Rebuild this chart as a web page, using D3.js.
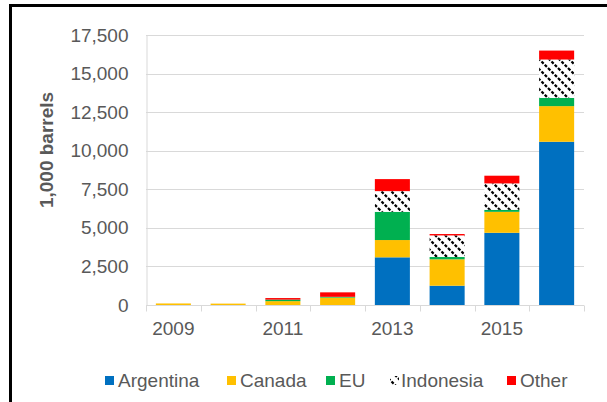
<!DOCTYPE html>
<html>
<head>
<meta charset="utf-8">
<script src="https://cdn.jsdelivr.net/npm/d3@7"></script>
<style>
  body { margin: 0; background: #fff; }
  text { font-family: "Liberation Sans", Arial, sans-serif; }
</style>
</head>
<body>
<svg id="chart" width="607" height="402"></svg>
<script>
var years = ['2009', '2010', '2011', '2012', '2013', '2014', '2015', '2016'];
var seriesNames = ['Argentina', 'Canada', 'EU', 'Indonesia', 'Other'];
var argentina = [0, 0, 0, 0, 3090, 1250, 4680, 10580];
var canada = [100, 90, 250, 480, 1120, 1710, 1360, 2310];
var eu = [0, 0, 100, 50, 1830, 150, 130, 530];
var indonesia = [0, 0, 0, 0, 1340, 1400, 1710, 2490];
var other = [0, 0, 100, 290, 780, 90, 500, 580];
var yTicks = [0, 2500, 5000, 7500, 10000, 12500, 15000, 17500];
var xLabels = ['2009', '2011', '2013', '2015'];

var colors = {
  Argentina: '#0070c0',
  Canada: '#ffc000',
  EU: '#00b050',
  Indonesia: 'url(#hatch)',
  Other: '#ff0000'
};

var rows = years.map(function(y, i) {
  return {
    year: y,
    Argentina: argentina[i],
    Canada: canada[i],
    EU: eu[i],
    Indonesia: indonesia[i],
    Other: other[i]
  };
});

var svg = d3.select('#chart');

// hatch pattern for Indonesia (dashed diagonal stripes)
var pat = svg.append('defs').append('pattern')
  .attr('id', 'hatch')
  .attr('patternUnits', 'userSpaceOnUse')
  .attr('width', 10)
  .attr('height', 10);
pat.append('rect').attr('width', 10).attr('height', 10).attr('fill', '#fff');
pat.append('path')
  .attr('d', 'M-5,-5 L15,15 M5,-5 L15,5 M-5,5 L5,15')
  .attr('stroke', '#000')
  .attr('stroke-width', 2.2)
  .attr('stroke-dasharray', '3,1.6');

// outer frame (only top and left edges visible)
svg.append('rect')
  .attr('x', 10.5)
  .attr('y', 5.5)
  .attr('width', 700)
  .attr('height', 500)
  .attr('fill', 'none')
  .attr('stroke', '#000')
  .attr('stroke-width', 3);

var x = d3.scaleBand().domain(years).range([146, 584]).paddingInner(0.36).paddingOuter(0.18);
var y = d3.scaleLinear().domain([0, 17500]).range([305, 35]);

var g = svg.append('g');

// gridlines
g.selectAll('.grid')
  .data(yTicks)
  .enter().append('line')
  .attr('x1', 146)
  .attr('x2', 584)
  .attr('y1', function(d) { return Math.round(y(d)) + 0.5; })
  .attr('y2', function(d) { return Math.round(y(d)) + 0.5; })
  .attr('stroke', '#d9d9d9')
  .attr('stroke-width', 1);

// y axis
var yAxis = g.append('g')
  .attr('transform', 'translate(146.5,0)')
  .call(d3.axisLeft(y).tickValues(yTicks).tickSize(0).tickPadding(18).tickFormat(d3.format(',')));
yAxis.select('.domain').attr('stroke', '#d9d9d9');
yAxis.selectAll('text')
  .attr('fill', '#595959')
  .style('font-size', '19px')
  .style('font-family', '"Liberation Sans", Arial, sans-serif');

// stacked bars
var stack = d3.stack().keys(seriesNames)(rows);
g.selectAll('.series')
  .data(stack)
  .enter().append('g')
  .attr('fill', function(d) { return colors[d.key]; })
  .selectAll('rect')
  .data(function(d) { return d; })
  .enter().append('rect')
  .attr('x', function(d) { return x(d.data.year); })
  .attr('width', x.bandwidth())
  .attr('y', function(d) { return y(d[1]); })
  .attr('height', function(d) { return y(d[0]) - y(d[1]); });

// x axis
var step = x.step();
var xAxisG = g.append('g').attr('transform', 'translate(0,305.5)');
xAxisG.append('line')
  .attr('x1', 146).attr('x2', 584)
  .attr('stroke', '#d9d9d9');
var bounds = d3.range(years.length + 1).map(function(i) { return 146 + i * step; });
xAxisG.selectAll('.tk')
  .data(bounds)
  .enter().append('line')
  .attr('x1', function(d) { return Math.round(d) + 0.5; })
  .attr('x2', function(d) { return Math.round(d) + 0.5; })
  .attr('y1', 0)
  .attr('y2', 6)
  .attr('stroke', '#d9d9d9');
xAxisG.selectAll('.lbl')
  .data(xLabels)
  .enter().append('text')
  .attr('x', function(d) { return x(d) + x.bandwidth() / 2; })
  .attr('y', 29)
  .attr('text-anchor', 'middle')
  .attr('fill', '#595959')
  .style('font-size', '19px')
  .text(function(d) { return d; });

// y axis title
svg.append('text')
  .attr('transform', 'translate(53,150) rotate(-90)')
  .attr('text-anchor', 'middle')
  .attr('fill', '#595959')
  .style('font-size', '19px')
  .style('font-weight', 'bold')
  .text('1,000 barrels');

// legend
var legendX = [105, 227, 326, 390, 507];
var legend = svg.append('g').attr('transform', 'translate(0,380)');
var item = legend.selectAll('.item')
  .data(seriesNames)
  .enter().append('g')
  .attr('transform', function(d, i) { return 'translate(' + legendX[i] + ',0)'; });
item.append('rect')
  .attr('x', 0)
  .attr('y', -4)
  .attr('width', 9)
  .attr('height', 9)
  .attr('fill', function(d) { return colors[d]; });
item.append('text')
  .attr('x', function(d) { return d === 'Indonesia' ? 11 : 13; })
  .attr('y', 7)
  .attr('fill', '#595959')
  .style('font-size', '19px')
  .text(function(d) { return d; });
</script>
</body>
</html>
